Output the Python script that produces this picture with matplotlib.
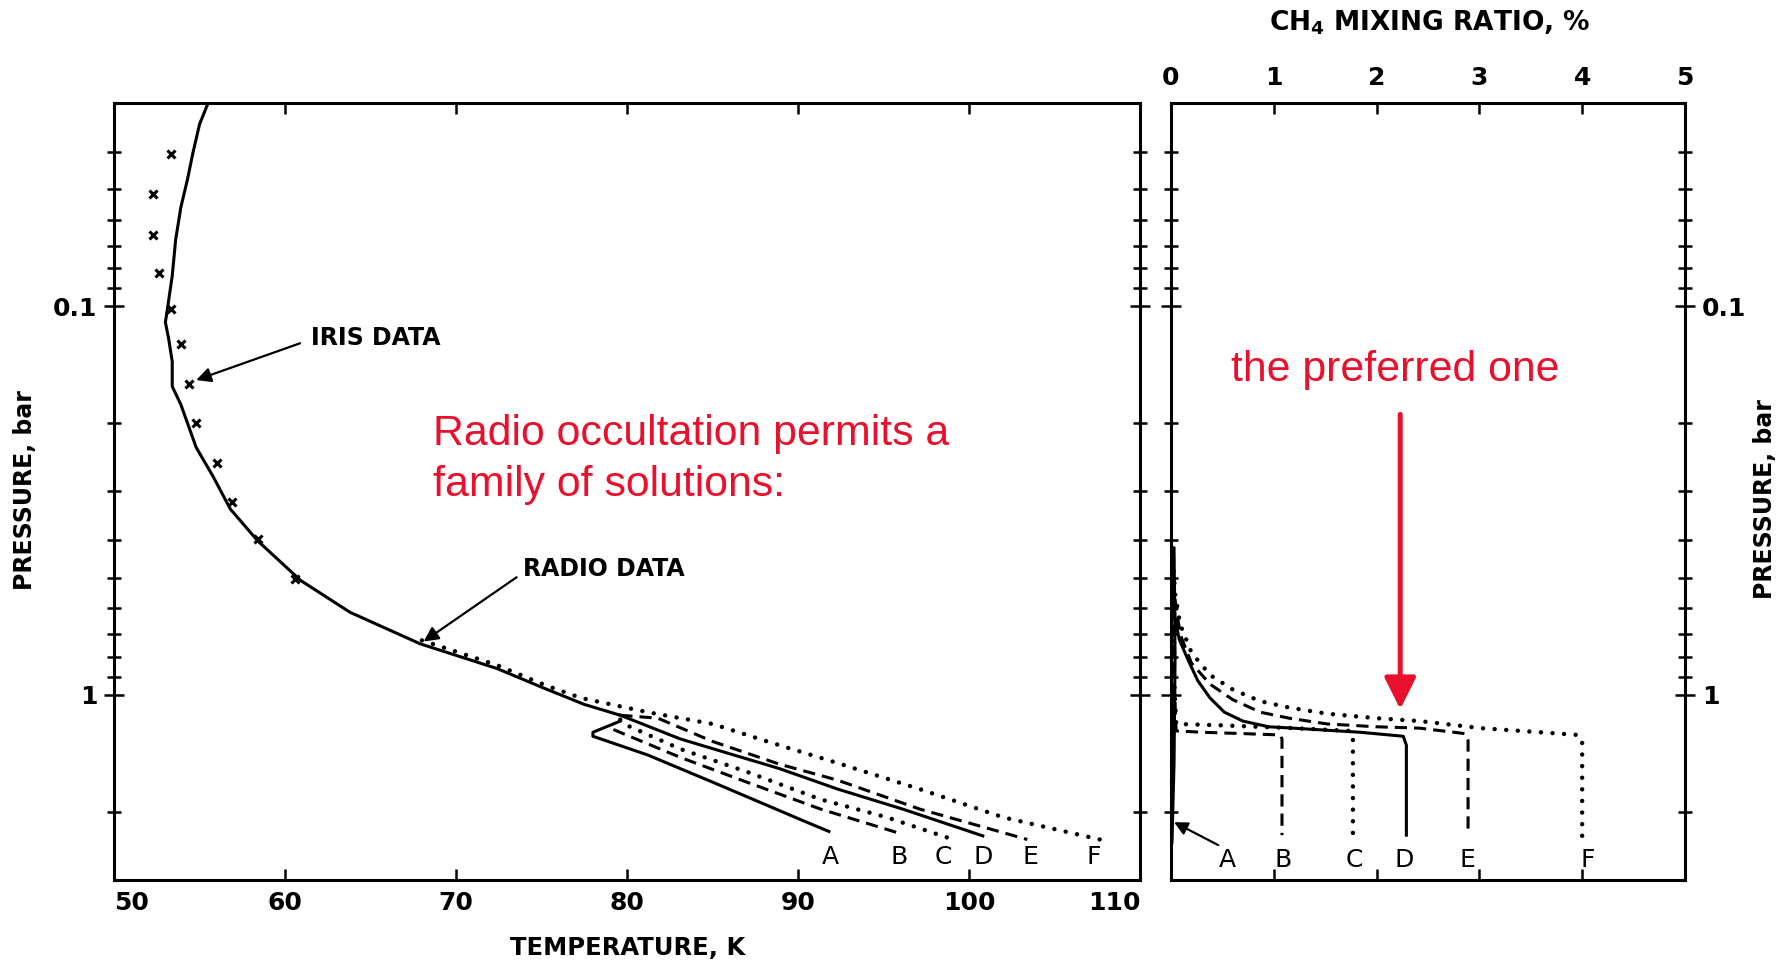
import numpy as np
import matplotlib.pyplot as plt

# temperature profile above the branch point (K, bar)
T_top = [55.5, 55.0, 54.6, 54.3, 53.9, 53.6, 53.4, 53.1, 53.0, 53.2, 53.4, 53.4,
         53.9, 54.8, 55.8, 56.8, 58.4, 60.9, 63.8, 67.9, 72.4, 75.2, 77.5, 79.6]
p_top = [0.030, 0.034, 0.0405, 0.047, 0.0558, 0.0675, 0.0836, 0.103, 0.110, 0.122, 0.139, 0.161,
         0.179, 0.231, 0.275, 0.333, 0.402, 0.508, 0.614, 0.74, 0.857, 0.965, 1.06, 1.13]

# IRIS points
T_iris = [53.3, 52.3, 52.3, 52.6, 53.3, 53.9, 54.4, 54.8, 56.0, 56.9, 58.4, 60.6]
p_iris = [0.0406, 0.0514, 0.0656, 0.0822, 0.102, 0.125, 0.159, 0.200, 0.253, 0.319, 0.398, 0.505]

# lower branches A-F
T_A = [79.6, 78.0, 78.0, 81.2, 85.0, 90.5, 91.8]
p_A = [1.17, 1.25, 1.28, 1.43, 1.68, 2.13, 2.25]
T_B = [79.2, 83.1, 87.0, 91.3, 96.0]
p_B = [1.23, 1.45, 1.68, 1.97, 2.28]
T_C = [79.6, 80.0, 83.1, 87.0, 91.3, 95.2, 98.8]
p_C = [1.16, 1.20, 1.38, 1.58, 1.86, 2.07, 2.34]
T_D = [79.6, 83.1, 86.0, 88.9, 92.3, 96.1, 100.8]
p_D = [1.13, 1.30, 1.42, 1.55, 1.75, 1.97, 2.31]
T_E = [79.6, 81.8, 85.0, 88.9, 92.3, 97.1, 103.4]
p_E = [1.13, 1.15, 1.32, 1.51, 1.66, 1.97, 2.36]
T_F = [68.0, 72.4, 75.2, 77.3, 81.2, 85.0, 88.2, 92.3, 97.1, 102.0, 108.0]
p_F = [0.725, 0.84, 0.945, 1.02, 1.11, 1.19, 1.32, 1.50, 1.75, 2.07, 2.38]

# CH4 mixing ratio profiles (%, bar)
x_A = [0.03, 0.04, 0.03, 0.01]
q_A = [0.42, 0.80, 1.50, 2.40]
x_B = [0.02, 0.03, 0.05, 0.30, 0.70, 1.06, 1.08, 1.08]
q_B = [0.42, 0.90, 1.24, 1.25, 1.26, 1.27, 1.30, 2.30]
x_C = [0.02, 0.03, 0.05, 0.50, 1.20, 1.74, 1.77, 1.77]
q_C = [0.42, 0.90, 1.19, 1.20, 1.22, 1.24, 1.28, 2.36]
x_D = [0.02, 0.03, 0.04, 0.08, 0.16, 0.26, 0.38, 0.52, 0.70, 0.95, 1.19, 1.84, 2.26, 2.29, 2.29]
q_D = [0.45, 0.55, 0.636, 0.72, 0.807, 0.92, 1.02, 1.11, 1.17, 1.21, 1.22, 1.25, 1.28, 1.35, 2.30]
x_E = [0.02, 0.04, 0.09, 0.20, 0.38, 0.60, 0.87, 1.15, 1.52, 2.00, 2.42, 2.86, 2.89, 2.89]
q_E = [0.45, 0.57, 0.70, 0.83, 0.94, 1.03, 1.11, 1.15, 1.19, 1.21, 1.22, 1.26, 1.31, 2.30]
x_F = [0.02, 0.04, 0.09, 0.20, 0.38, 0.60, 0.87, 1.15, 1.52, 2.00, 2.42, 3.02, 3.96, 4.0, 4.0]
q_F = [0.45, 0.55, 0.66, 0.78, 0.89, 0.97, 1.04, 1.08, 1.12, 1.15, 1.17, 1.22, 1.27, 1.32, 2.40]

labels = ['A', 'B', 'C', 'D', 'E', 'F']
T_lab = [91.9, 95.9, 98.5, 100.8, 103.6, 107.3]
x_lab = [0.55, 1.09, 1.78, 2.27, 2.88, 4.05]

red = '#e8102c'
solid = dict(color='k', lw=2.2, ls='-')
dash = dict(color='k', lw=2.2, ls=(0, (4, 2.3)))
dot = dict(color='k', lw=3.2, ls=(0, (0.01, 2.6)), dash_capstyle='round')
styles = [solid, dash, dot, solid, dash, dot]

plt.rcParams['font.family'] = 'DejaVu Sans'
fig = plt.figure(figsize=(17.91, 9.67), dpi=100)
ax = fig.add_axes([0.0637, 0.0900, 0.5729, 0.8035])
ax2 = fig.add_axes([0.6538, 0.0900, 0.2870, 0.8035])

yminor = [0.04, 0.05, 0.06, 0.07, 0.08, 0.09, 0.2, 0.3, 0.4, 0.5, 0.6, 0.7, 0.8, 0.9, 2]
for a in (ax, ax2):
    a.set_yscale('log')
    a.set_ylim(3, 0.03)
    a.set_yticks([0.1, 1], ['0.1', '1'])
    a.set_yticks(yminor, minor=True)
    a.yaxis.set_minor_formatter(plt.NullFormatter())
    a.tick_params(axis='y', which='major', direction='inout', length=14, width=1.8,
                  left=True, right=True, labelsize=18)
    a.tick_params(axis='y', which='minor', direction='inout', length=10, width=1.8,
                  left=True, right=True)
    a.tick_params(axis='x', direction='in', length=8, width=1.8, top=True, bottom=True,
                  labelsize=18)
    for s in a.spines.values():
        s.set_linewidth(2.2)

# temperature panel
ax.set_xlim(50, 110)
ax.set_xticks(range(50, 111, 10))
ax.tick_params(axis='x', pad=8)
ax.tick_params(axis='y', labelright=False, pad=5)
for t in ax.get_xticklabels() + ax.get_yticklabels():
    t.set_fontweight('bold')
ax.get_xticklabels()[0].set_ha('left')
ax.get_xticklabels()[-1].set_ha('right')

ax.plot(T_top, p_top, **solid)
ax.plot(T_iris, p_iris, 'x', color='k', ms=6, mew=2.2)
for T, p, st in zip([T_A, T_B, T_C, T_D, T_E, T_F], [p_A, p_B, p_C, p_D, p_E, p_F], styles):
    ax.plot(T, p, **st)
for lab, T in zip(labels, T_lab):
    ax.text(T, 2.62, lab, fontsize=18, ha='center', va='center')

ax.annotate('IRIS DATA', xy=(54.8, 0.155), xytext=(61.5, 0.121), fontsize=17,
            fontweight='bold', va='center', ha='left',
            arrowprops=dict(arrowstyle='-|>', color='k', lw=1.6, mutation_scale=22,
                            relpos=(0, 0.45), shrinkA=6, shrinkB=0))
ax.annotate('RADIO DATA', xy=(68.1, 0.73), xytext=(73.9, 0.476), fontsize=17,
            fontweight='bold', va='center', ha='left',
            arrowprops=dict(arrowstyle='-|>', color='k', lw=1.6, mutation_scale=22,
                            relpos=(0, 0.35), shrinkA=3, shrinkB=0))

ax.text(68.65, 0.214, 'Radio occultation permits a', color=red, fontsize=30.8,
        family='Liberation Sans', ha='left', va='center')
ax.text(68.65, 0.288, 'family of solutions:', color=red, fontsize=30.8,
        family='Liberation Sans', ha='left', va='center')

# methane panel
ax2.set_xlim(0, 5)
ax2.set_xticks(range(0, 6))
ax2.tick_params(axis='x', labelbottom=False, labeltop=True, pad=9)
ax2.tick_params(axis='y', labelleft=False, labelright=True, pad=5)
for t in ax2.get_xticklabels() + ax2.get_yticklabels():
    t.set_fontweight('bold')

for x, q, st in zip([x_A, x_B, x_C, x_D, x_E, x_F], [q_A, q_B, q_C, q_D, q_E, q_F], styles):
    ax2.plot(x, q, **st)
for lab, x in zip(labels, x_lab):
    ax2.text(x, 2.66, lab, fontsize=18, ha='center', va='center')
ax2.annotate('', xy=(0.03, 2.13), xytext=(0.46, 2.44),
             arrowprops=dict(arrowstyle='-|>', color='k', lw=1.6, mutation_scale=20,
                             shrinkA=0, shrinkB=0))

ax2.text(2.18, 0.146, 'the preferred one', color=red, fontsize=30.8,
         family='Liberation Sans', ha='center', va='center')
ax2.annotate('', xy=(2.23, 1.09), xytext=(2.23, 0.19),
             arrowprops=dict(arrowstyle='-|>', color=red, lw=3.6, mutation_scale=48,
                             shrinkA=0, shrinkB=0))

fig.text(0.3507, 0.0197, 'TEMPERATURE, K', fontsize=17.5, fontweight='bold',
         ha='center', va='center')
fig.text(0.014, 0.4933, 'PRESSURE, bar', fontsize=17, fontweight='bold',
         rotation=90, ha='center', va='center')
fig.text(0.9855, 0.484, 'PRESSURE, bar', fontsize=17, fontweight='bold',
         rotation=90, ha='center', va='center')
fig.text(0.798, 0.976, r'CH$_\mathbf{4}$ MIXING RATIO, %', fontsize=19, fontweight='bold',
         ha='center', va='center')

fig.savefig('out.png', dpi=100)
